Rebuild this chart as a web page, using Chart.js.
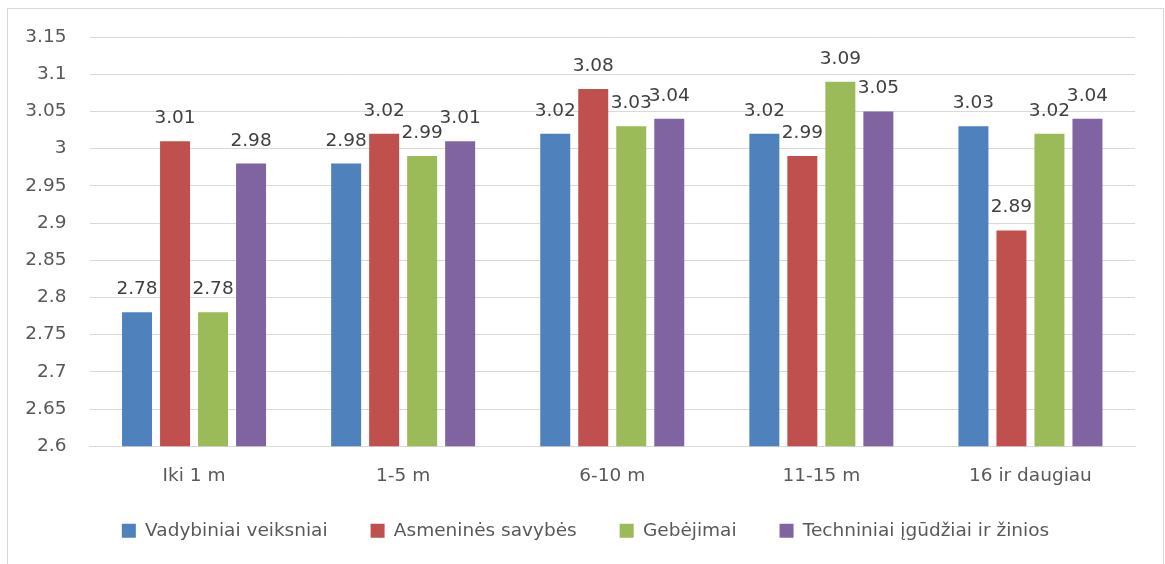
<!DOCTYPE html>
<html>
<head>
<meta charset="utf-8">
<script src="https://cdn.jsdelivr.net/npm/chart.js@4/dist/chart.umd.min.js"></script>
<style>
  html, body { margin: 0; padding: 0; background: #ffffff; }
  #wrap { position: relative; width: 1165px; height: 564px; overflow: hidden; }
  #frame { position: absolute; left: 7px; top: 8px; width: 1157px; height: 570px; border: 1px solid #d9d9d9; box-sizing: border-box; }
  #chart { position: absolute; left: 0; top: 0; }
</style>
</head>
<body>
<div id="wrap">
  <div id="frame"></div>
  <canvas id="chart" width="1165" height="564"></canvas>
</div>
<script>
// Work experience groups
const categories = ['Iki 1 m', '1-5 m', '6-10 m', '11-15 m', '16 ir daugiau'];

// Average scores per factor group
const vadybiniai = [2.78, 2.98, 3.02, 3.02, 3.03];
const asmenines  = [3.01, 3.02, 3.08, 2.99, 2.89];
const gebejimai  = [2.78, 2.99, 3.03, 3.09, 3.02];
const techniniai = [2.98, 3.01, 3.04, 3.05, 3.04];

const seriesNames = ['Vadybiniai veiksniai', 'Asmeninės savybės', 'Gebėjimai', 'Techniniai įgūdžiai ir žinios'];
const seriesColors = ['#4f81bd', '#c0504d', '#9bbb59', '#8064a2'];

// Value axis
const yMin = 2.6;
const yMax = 3.15;
const yStep = 0.05;

const FONT = '"DejaVu Sans", sans-serif';
const FONT_SIZE = 18.5;

// Writes each bar's value just above it
const valueLabels = {
  id: 'valueLabels',
  afterDatasetsDraw(chart) {
    const ctx = chart.ctx;
    ctx.save();
    ctx.font = FONT_SIZE + 'px ' + FONT;
    ctx.fillStyle = '#404040';
    ctx.textAlign = 'center';
    ctx.textBaseline = 'alphabetic';
    chart.data.datasets.forEach((ds, i) => {
      chart.getDatasetMeta(i).data.forEach((bar, j) => {
        ctx.fillText(ds.data[j].toFixed(2), bar.x, bar.y - 18);
      });
    });
    ctx.restore();
  }
};

// Moves the legend row a little right and up, under the plot
const legendOffset = {
  id: 'legendOffset',
  afterLayout(chart) {
    const lg = chart.legend;
    if (!lg) return;
    lg.left += 18;
    lg.right += 18;
    lg.top -= 28;
    lg.bottom -= 28;
  }
};

const seriesData = [vadybiniai, asmenines, gebejimai, techniniai];

new Chart(document.getElementById('chart'), {
  type: 'bar',
  data: {
    labels: categories,
    datasets: seriesData.map((vals, i) => ({
      label: seriesNames[i],
      data: vals,
      backgroundColor: seriesColors[i],
      borderWidth: 0,
      categoryPercentage: 0.727,
      barPercentage: 0.789
    }))
  },
  options: {
    responsive: false,
    animation: false,
    devicePixelRatio: 1,
    layout: { padding: { left: 0, right: 30, top: 37, bottom: -14 } },
    plugins: {
      legend: {
        position: 'bottom',
        labels: {
          font: { family: FONT, size: FONT_SIZE },
          color: '#595959',
          boxWidth: 14,
          boxHeight: 14,
          padding: 43
        }
      },
      tooltip: { enabled: false }
    },
    scales: {
      x: {
        grid: { display: false, drawTicks: false },
        border: { display: true, color: '#d9d9d9' },
        ticks: { font: { family: FONT, size: FONT_SIZE }, color: '#595959', padding: 19 }
      },
      y: {
        min: yMin,
        max: yMax,
        grid: { color: '#d9d9d9', drawTicks: false },
        border: { display: false },
        ticks: {
          stepSize: yStep,
          padding: 23,
          font: { family: FONT, size: FONT_SIZE },
          color: '#595959',
          callback: v => String(Math.round(v * 100) / 100)
        },
        afterFit: scale => { scale.width = 89.5; }
      }
    }
  },
  plugins: [valueLabels, legendOffset]
});
</script>
</body>
</html>
